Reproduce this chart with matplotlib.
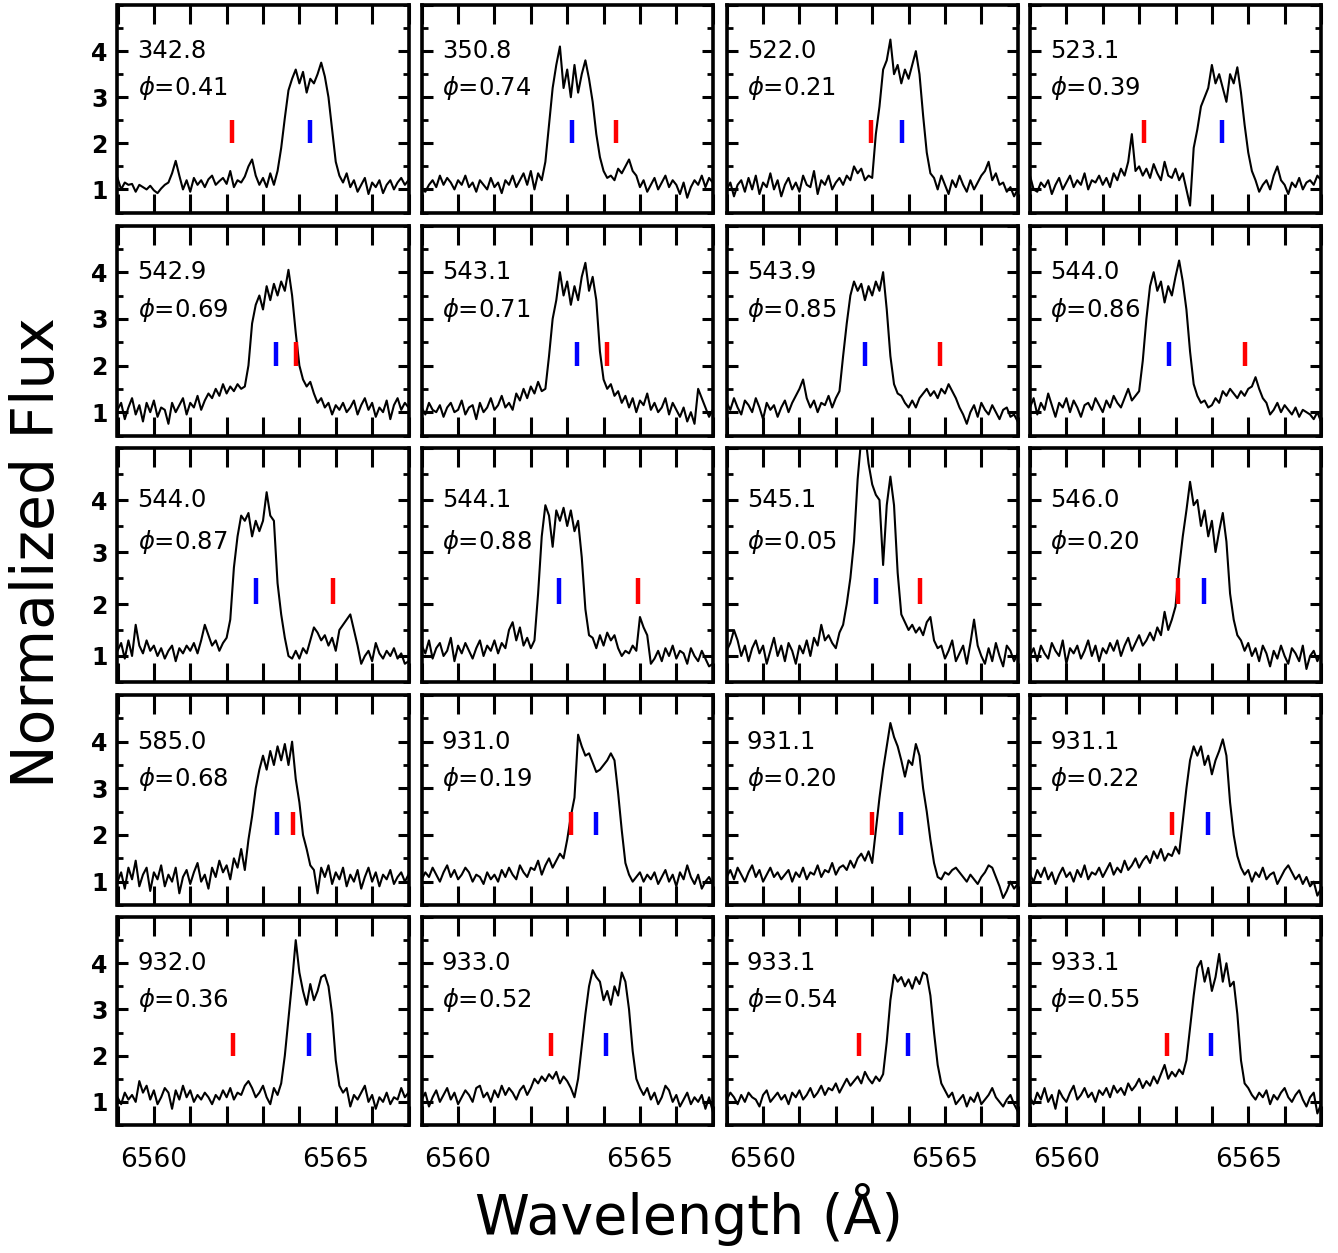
import matplotlib
matplotlib.use("Agg")
import matplotlib.pyplot as plt
import numpy as np
from matplotlib.ticker import MultipleLocator

# wavelength grid shared by all spectra (0.1 A sampling)
wave = np.linspace(6559.0, 6567.0, 81)

# panel labels (days) and orbital phases
days = ["342.8", "350.8", "522.0", "523.1",
        "542.9", "543.1", "543.9", "544.0",
        "544.0", "544.1", "545.1", "546.0",
        "585.0", "931.0", "931.1", "931.1",
        "932.0", "933.0", "933.1", "933.1"]
phases = ["0.41", "0.74", "0.21", "0.39",
          "0.69", "0.71", "0.85", "0.86",
          "0.87", "0.88", "0.05", "0.20",
          "0.68", "0.19", "0.20", "0.22",
          "0.36", "0.52", "0.54", "0.55"]

# predicted line positions (red and blue markers)
red_mark = [6562.15, 6564.34, 6562.96, 6562.13,
            6563.90, 6564.10, 6564.86, 6564.90,
            6564.93, 6564.94, 6564.31, 6563.07,
            6563.82, 6563.10, 6562.99, 6562.90,
            6562.17, 6562.55, 6562.63, 6562.76]
blue_mark = [6564.29, 6563.12, 6563.82, 6564.28,
             6563.35, 6563.27, 6562.80, 6562.82,
             6562.80, 6562.77, 6563.10, 6563.78,
             6563.38, 6563.79, 6563.79, 6563.89,
             6564.26, 6564.07, 6563.98, 6563.97]

# normalized flux, one array per panel
flux_01 = [1.25, 1.0, 1.15, 1.1, 1.12, 0.95, 1.1, 1.05, 1.0, 1.08, 0.98, 0.92, 1.02, 1.1, 1.15,
           1.35, 1.62, 1.3,
           1.0, 1.2, 0.95, 1.25, 1.1, 1.2, 1.05, 1.22, 1.3, 1.1, 1.18, 1.25, 1.12, 1.4, 1.05, 1.2, 1.15, 1.28,
           1.5, 1.65, 1.3,
           1.1, 1.25, 1.05, 1.35, 1.1, 1.4,
           1.9, 2.55, 3.15, 3.4, 3.6, 3.3, 3.55, 3.1, 3.4, 3.3, 3.5, 3.75, 3.45, 3.0, 2.3, 1.6, 1.3,
           1.15, 1.35, 1.05, 1.2, 0.95, 1.1, 1.25, 0.9, 1.15, 1.05, 1.2, 0.92, 1.1, 1.2, 1.0, 1.15, 1.25, 1.1, 1.2]
flux_02 = [1.0, 0.95, 1.1, 1.2, 1.05, 1.3, 1.1, 1.25, 1.15, 1.0, 1.2, 1.1, 1.3, 1.05,
           1.15, 0.95, 1.2, 1.1, 1.0, 1.25, 1.05, 1.15, 0.92, 1.2, 1.1, 1.3, 1.05, 1.2,
           1.35, 1.1, 1.4, 1.0, 1.35, 1.2,
           1.6, 2.4, 3.2, 3.7, 4.1, 3.2, 3.6, 3.0, 3.7, 3.1, 3.5, 3.8, 3.4, 2.9, 2.2, 1.7, 1.4, 1.25, 1.3,
           1.2, 1.45, 1.35, 1.5, 1.65, 1.4, 1.3, 1.05,
           1.2, 0.95, 1.1, 1.25, 1.0, 1.15, 1.3, 1.05, 1.2, 1.1, 0.9, 1.15, 0.82, 1.05, 1.2, 1.1, 1.3, 1.05, 1.25, 1.15]
flux_03 = [1.0, 1.15, 0.85, 1.1, 1.2, 0.95, 1.25, 1.0, 1.3, 0.9, 1.15, 1.05, 1.35, 1.0, 1.2, 0.85, 1.1, 1.25,
           1.0, 1.15, 0.95, 1.3, 1.1, 1.05, 1.4, 0.9, 1.2, 1.1, 1.3, 1.0, 1.15, 1.25, 1.1, 1.3, 1.2, 1.5,
           1.35, 1.45, 1.2, 1.3, 1.25, 2.2, 2.8, 3.6, 3.8, 4.25, 3.5, 3.7, 3.3, 3.6, 3.4, 3.7, 4.0, 3.5,
           2.6, 1.8, 1.35, 1.25,
           1.0, 1.3, 1.1, 0.9, 1.2, 1.05, 1.3, 1.1, 0.95, 1.2, 1.0, 1.15, 1.3, 1.4, 1.6, 1.2, 1.35, 1.1,
           1.15, 0.95, 1.05, 0.85, 1.0]
flux_04 = [1.3, 1.0, 0.95, 1.15, 1.05, 1.2, 0.9, 1.1, 1.25, 1.0, 1.15, 1.3, 1.05, 1.2, 1.1, 1.35, 1.0,
           1.2, 1.15, 1.3, 1.1, 1.25, 1.05, 1.35, 1.2,
           1.45, 1.3, 1.6, 2.2, 1.4, 1.5, 1.3, 1.45, 1.25, 1.55, 1.35, 1.2, 1.6, 1.3,
           1.25, 1.45, 1.2, 1.35, 1.0, 0.65, 1.9, 2.3, 2.8, 3.0, 3.2, 3.7, 3.3, 3.5, 3.2, 2.9, 3.5, 3.3,
           3.65, 3.1, 2.4, 1.8, 1.4, 1.2, 0.95,
           1.1, 1.2, 1.0, 1.3, 1.5, 1.2, 1.1, 0.9, 1.15, 1.05, 1.25, 1.0, 1.15, 1.2, 1.1, 1.3, 1.2]
flux_05 = [1.05, 1.2, 0.85, 1.1, 1.3, 0.95, 1.15, 0.8, 1.2, 1.0, 1.25, 0.9, 1.1, 1.05, 0.75, 1.2, 1.0,
           1.15, 1.3, 0.95, 1.2, 1.1, 1.35, 1.05, 1.25, 1.4,
           1.3, 1.5, 1.35, 1.6, 1.4, 1.55, 1.45, 1.6, 1.5, 1.55,
           2.0, 2.9, 3.3, 3.5, 3.2, 3.7, 3.4, 3.75, 3.5, 3.8, 3.6, 4.05, 3.5, 2.7, 2.0, 1.7, 1.55, 1.65,
           1.4, 1.2,
           1.3, 1.1, 1.2, 0.95, 1.15, 1.05, 1.2, 1.0, 1.1, 1.25, 0.95, 1.15, 1.3, 1.05, 1.2, 0.9, 1.1, 1.0,
           1.25, 0.85, 1.15, 1.3, 1.05, 1.2, 1.1]
flux_06 = [1.1, 0.95, 1.2, 1.05, 1.0, 1.15, 0.9, 1.1, 1.2, 1.0, 1.05, 1.25, 0.95, 1.1, 1.15, 0.85, 1.2,
           1.0, 1.1, 1.3, 1.05, 1.15, 1.35, 1.1, 1.2, 1.05,
           1.4, 1.25, 1.5, 1.3, 1.55, 1.4, 1.65, 1.45, 1.5,
           2.2, 3.0, 3.4, 4.0, 3.5, 3.8, 3.3, 3.7, 3.4, 3.9, 4.2, 3.6, 3.9, 3.4, 2.3, 1.7, 1.5, 1.6, 1.35,
           1.45,
           1.2, 1.35, 1.1, 1.3, 1.0, 1.25, 1.15, 1.4, 1.05, 1.2, 1.0, 1.1, 1.3, 0.95, 1.2, 1.05, 0.9, 1.1,
           0.8, 1.0, 0.75, 1.5, 1.3, 1.1, 0.9, 1.05]
flux_07 = [1.2, 1.05, 1.3, 1.1, 0.95, 1.25, 1.15, 1.0, 1.3, 1.1, 0.85, 1.2, 1.05, 1.15, 0.9, 1.1, 1.25,
           1.0, 1.2, 1.35, 1.5, 1.7, 1.3, 1.1, 1.25, 1.0, 1.2, 1.15, 1.35, 1.1, 1.3,
           1.45, 2.2, 2.9, 3.5, 3.8, 3.6, 3.75, 3.4, 3.7, 3.5, 3.8, 3.6, 4.0, 3.2, 2.2, 1.6, 1.4, 1.35,
           1.2, 1.1, 1.25, 1.1, 1.3, 1.4, 1.5, 1.35, 1.45, 1.3, 1.5, 1.4, 1.6, 1.45, 1.3, 1.1, 0.95, 0.75,
           1.0, 1.15, 0.9, 1.2, 1.05, 0.95, 1.15, 1.0, 0.85, 1.05, 1.1, 0.9, 0.95, 0.8]
flux_08 = [1.1, 1.3, 0.95, 1.2, 1.05, 1.4, 1.15, 0.9, 1.2, 1.1, 1.3, 1.0, 1.25, 1.1, 0.9, 1.15, 1.2,
           1.05, 1.3, 1.15, 1.0, 1.25, 1.1, 1.35, 1.2, 1.1, 1.3, 1.5, 1.25, 1.35, 1.45,
           2.1, 3.0, 3.7, 4.0, 3.6, 3.8, 3.35, 3.7, 3.5, 3.9, 4.25, 3.8, 3.2, 2.3, 1.6, 1.35, 1.2, 1.25,
           1.1, 1.15, 1.3, 1.2, 1.45, 1.35, 1.5, 1.4, 1.3, 1.45, 1.35, 1.5, 1.55, 1.75, 1.5, 1.3, 1.2,
           0.95, 1.05, 1.2, 1.0, 1.15, 1.05, 0.95, 1.1, 0.9, 1.05, 1.0, 0.95, 0.85, 1.0, 0.8]
flux_09 = [1.1, 1.25, 0.95, 1.3, 1.0, 1.6, 1.2, 1.05, 1.3, 1.1, 1.2, 1.0, 1.15, 0.95, 1.1, 1.2, 0.9,
           1.15, 1.05, 1.2, 1.1, 1.25, 1.05, 1.3, 1.6, 1.4, 1.2, 1.3, 1.1, 1.25,
           1.35, 1.7, 2.7, 3.3, 3.7, 3.6, 3.75, 3.3, 3.6, 3.4, 3.6, 4.15, 3.7, 3.6, 2.4, 1.8, 1.35, 1.0,
           0.95, 1.1, 0.95, 1.15, 1.05, 1.3, 1.55, 1.45, 1.3, 1.4, 1.2, 1.35, 1.1, 1.5, 1.6, 1.7, 1.8,
           1.5, 1.2, 0.85,
           1.0, 1.1, 0.9, 1.25, 1.05, 0.95, 1.1, 1.0, 1.15, 0.95, 1.05, 0.85, 0.9]
flux_10 = [1.2, 1.05, 1.3, 0.95, 1.15, 1.25, 1.0, 1.1, 1.35, 0.9, 1.2, 1.05, 1.25, 1.1, 0.95, 1.15, 1.3,
           1.0, 1.2, 1.1, 1.3, 1.05, 1.25, 1.15, 1.5, 1.65, 1.3, 1.55, 1.2, 1.35, 1.15,
           1.3, 2.2, 3.3, 3.9, 3.7, 3.1, 3.8, 3.6, 3.85, 3.5, 3.8, 3.4, 3.6, 2.9, 1.9, 1.4, 1.35, 1.15,
           1.4, 1.2, 1.45, 1.3, 1.4, 1.15, 1.0, 1.1, 1.05, 1.2, 1.1, 1.75, 1.55, 1.4, 0.85, 0.95,
           1.1, 0.9, 1.15, 1.0, 1.2, 0.95, 1.1, 1.05, 0.85, 1.15, 1.0, 0.9, 1.1, 0.95, 0.8, 0.85]
flux_11 = [1.1, 1.25, 1.5, 1.3, 1.0, 1.2, 0.9, 1.15, 1.3, 1.05, 1.2, 0.85, 1.1, 1.35, 1.0, 1.2, 0.9,
           1.25, 1.1, 0.85, 1.2, 1.05, 1.3, 1.0, 1.35, 1.2, 1.6, 1.3, 1.4, 1.25, 1.15, 1.45,
           1.6, 2.0, 2.5, 3.2, 4.4, 5.2, 5.3, 4.7, 4.3, 4.1, 4.0, 2.75, 3.9, 4.45, 3.9, 2.6, 1.8, 1.65,
           1.5, 1.6, 1.45, 1.55, 1.4, 1.65, 1.75, 1.3, 1.15,
           1.2, 0.95, 1.1, 1.3, 0.9, 1.05, 1.2, 0.85, 1.25, 1.7, 1.2, 1.0, 0.85, 1.15, 0.9, 1.25, 1.0,
           0.8, 1.2, 1.1, 0.9, 1.05]
flux_12 = [1.0, 1.15, 0.9, 1.2, 1.05, 0.95, 1.25, 1.1, 1.0, 1.3, 0.85, 1.15, 1.05, 1.2, 0.95, 1.1, 1.3,
           1.0, 1.2, 0.9, 1.15, 1.05, 1.25, 1.1, 1.3, 1.0, 1.2, 1.35, 1.1, 1.25, 1.4, 1.2, 1.3, 1.45,
           1.3, 1.55, 1.4, 1.85, 1.5, 1.7, 1.95, 2.7, 3.3, 3.8, 4.35, 3.9, 4.0, 3.5, 3.8, 3.3, 3.6, 3.0,
           3.4, 3.75, 3.2, 2.2, 1.7, 1.4, 1.3, 1.1,
           1.25, 1.0, 1.15, 0.9, 1.2, 1.05, 0.8, 1.1, 0.95, 1.2, 1.0, 0.85, 1.15, 1.05, 0.9, 1.2, 0.75,
           1.0, 1.1, 0.9, 1.05]
flux_13 = [1.0, 1.2, 0.85, 1.3, 1.05, 1.45, 0.9, 1.15, 1.3, 0.8, 1.2, 1.05, 1.35, 0.9, 1.15, 1.0, 1.3,
           0.75, 1.1, 1.25, 0.95, 1.2, 1.4, 1.0, 1.15, 0.85, 1.3, 1.1, 1.45, 1.2, 1.35, 1.05, 1.5, 1.3,
           1.7, 1.25, 1.9, 2.4, 3.0, 3.4, 3.7, 3.4, 3.8, 3.5, 3.9, 3.6, 3.95, 3.5, 4.0, 3.2, 2.7, 2.0,
           1.7, 1.35, 1.25, 0.75, 1.3,
           1.1, 1.35, 0.95, 1.2, 1.05, 1.3, 0.9, 1.15, 1.0, 1.25, 0.85, 1.1, 1.3, 1.0, 1.2, 0.9, 1.15,
           1.05, 1.25, 0.95, 1.1, 1.2, 1.0, 1.15]
flux_14 = [1.05, 1.2, 1.1, 1.3, 1.15, 1.0, 1.2, 1.35, 1.1, 1.25, 1.05, 1.15, 1.3, 1.2, 1.0, 1.15, 1.1,
           0.95, 1.2, 1.05, 1.15, 1.0, 1.25, 1.1, 1.3, 1.15, 1.05, 1.35, 1.2, 1.1, 1.3, 1.25, 1.45, 1.15,
           1.35, 1.5,
           1.3, 1.45, 1.6, 1.5, 1.9, 2.4, 2.8, 4.15, 3.9, 3.7, 3.75, 3.55, 3.35, 3.4, 3.5, 3.6, 3.75, 3.6,
           2.9, 2.1, 1.4, 1.15, 1.0,
           1.1, 1.2, 1.0, 1.15, 1.05, 1.2, 0.95, 1.1, 1.25, 1.0, 1.15, 0.9, 1.2, 1.05, 1.35, 1.1, 0.95,
           1.15, 0.85, 1.0, 1.1, 0.95]
flux_15 = [1.1, 1.25, 1.05, 1.3, 1.15, 1.0, 1.2, 1.35, 1.1, 1.25, 1.0, 1.15, 1.3, 1.1, 1.2, 1.05, 1.15,
           1.25, 1.0, 1.2, 1.1, 1.3, 1.05, 1.2, 1.15, 1.35, 1.1, 1.25, 1.2, 1.4, 1.15, 1.3, 1.35, 1.25,
           1.45, 1.3, 1.5,
           1.6, 1.45, 1.65, 1.4, 2.1, 2.8, 3.4, 3.9, 4.4, 4.1, 3.9, 3.6, 3.25, 3.6, 3.5, 3.95, 3.7, 3.0,
           2.5, 1.9, 1.4, 1.1,
           1.05, 1.2, 1.15, 1.25, 1.3, 1.2, 1.1, 1.0, 1.15, 1.05, 0.95, 1.1, 1.2, 1.35, 1.3, 1.1, 0.9,
           0.65, 0.8, 1.0, 0.85, 0.95]
flux_16 = [1.15, 1.0, 1.25, 1.1, 1.3, 1.05, 1.2, 0.95, 1.15, 1.3, 1.1, 1.2, 1.0, 1.25, 1.1, 1.35, 1.05,
           1.2, 1.15, 1.3, 1.1, 1.25, 1.4, 1.15, 1.3, 1.2, 1.45, 1.25, 1.35, 1.5, 1.3, 1.45, 1.55,
           1.4, 1.65, 1.5, 1.7, 1.45, 1.6, 1.55, 1.75, 1.6, 2.3, 3.0, 3.6, 3.9, 3.7, 3.9, 3.5, 3.7, 3.3,
           3.6, 3.8, 4.05, 3.7, 2.7, 2.0, 1.55, 1.3,
           1.15, 1.25, 1.0, 1.2, 1.1, 1.3, 1.05, 1.15, 1.2, 0.95, 1.1, 1.25, 1.35, 1.2, 1.05, 1.15, 0.95,
           1.1, 0.9, 1.0, 0.7, 0.85]
flux_17 = [1.1, 0.95, 1.2, 1.05, 1.15, 1.0, 1.45, 1.2, 1.35, 1.05, 1.25, 0.95, 1.1, 1.3, 1.2, 0.85,
           1.25, 1.05, 1.35, 1.1, 1.25, 1.0, 1.15, 1.05, 1.2, 1.1, 0.95, 1.15, 1.05, 1.25, 1.1, 1.3,
           1.05, 1.2, 1.15, 1.35, 1.45, 1.3, 1.1, 1.2, 1.35, 1.1, 0.95, 1.3, 1.15, 1.4,
           2.0, 2.8, 3.6, 4.5, 3.8, 3.4, 3.1, 3.55, 3.2, 3.4, 3.7, 3.75, 3.5, 2.9, 1.9, 1.35, 1.2,
           1.3, 0.9, 1.15, 1.05, 1.2, 1.35, 1.0, 1.15, 0.85, 1.1, 1.0, 1.2, 0.95, 1.1, 1.05, 1.3, 1.1, 1.2]
flux_18 = [1.05, 1.2, 0.9, 1.1, 1.25, 1.0, 1.15, 1.3, 1.05, 1.2, 0.95, 1.1, 1.25, 1.15, 1.0, 1.3, 1.35,
           1.1, 1.2, 1.0, 1.25, 1.1, 1.35, 1.15, 1.3, 1.2, 1.05, 1.25, 1.35, 1.15, 1.3,
           1.5, 1.4, 1.55, 1.45, 1.6, 1.5, 1.65, 1.4, 1.55, 1.45, 1.3, 1.1, 1.5, 2.2, 2.9, 3.5, 3.85, 3.7,
           3.6, 3.2, 3.4, 3.1, 3.5, 3.3, 3.8, 3.6, 3.0, 2.1, 1.5, 1.3,
           1.15, 1.3, 1.05, 1.2, 0.95, 1.1, 1.35, 1.25, 1.0, 1.15, 0.9, 1.05, 1.2, 0.95, 1.1, 1.0, 1.15,
           0.85, 1.1, 0.8]
flux_19 = [1.05, 1.2, 1.1, 0.95, 1.15, 1.0, 1.2, 1.1, 1.05, 0.9, 1.15, 1.25, 1.0, 1.1, 1.2, 1.05, 1.15,
           0.95, 1.2, 1.1, 1.25, 1.05, 1.15, 1.3, 1.1, 1.2, 1.35, 1.15, 1.3, 1.25, 1.4, 1.2, 1.35, 1.5,
           1.35, 1.45, 1.55, 1.4, 1.65, 1.5, 1.4, 1.55, 1.45, 1.6, 2.3, 3.2, 3.75, 3.6, 3.7, 3.5, 3.65,
           3.45, 3.7, 3.55, 3.8, 3.75, 3.3, 2.5, 1.8, 1.4, 1.25,
           1.1, 1.2, 0.95, 1.05, 1.15, 0.9, 1.1, 1.0, 1.2, 0.95, 1.05, 1.15, 1.3, 1.1, 1.0, 0.9, 1.05,
           1.15, 0.95, 0.8]
flux_20 = [1.1, 0.95, 1.2, 1.05, 1.3, 1.0, 1.15, 0.85, 1.25, 1.1, 1.0, 1.2, 1.35, 1.05, 1.15, 1.3, 1.1,
           1.2, 1.0, 1.25, 1.15, 1.3, 1.1, 1.35, 1.2, 1.3, 1.15, 1.4, 1.25, 1.35, 1.5, 1.3, 1.45, 1.35,
           1.55, 1.4, 1.6, 1.8, 1.5, 1.65, 1.55, 1.7, 1.6, 1.9, 2.6, 3.3, 3.9, 4.05, 3.6, 3.9, 3.4, 3.7,
           4.2, 3.6, 4.0, 3.5, 3.6, 2.9, 1.9, 1.4, 1.3,
           1.15, 1.05, 1.2, 1.1, 1.25, 0.95, 1.15, 1.05, 1.2, 1.3, 1.1, 1.0, 1.15, 1.25, 1.05, 0.9, 1.1,
           1.2, 0.75, 0.95]

fluxes = [flux_01, flux_02, flux_03, flux_04, flux_05, flux_06, flux_07, flux_08, flux_09, flux_10,
          flux_11, flux_12, flux_13, flux_14, flux_15, flux_16, flux_17, flux_18, flux_19, flux_20]

W, H = 1338, 1253
fig = plt.figure(figsize=(W / 100, H / 100), dpi=100)

# panel edges in pixels
col_left = [117.5, 421.7, 726.7, 1030.0]
col_width = 291.0
row_edges = [(5, 212.5), (225.5, 435.5), (448, 682), (695, 905), (917, 1125)]

for k in range(20):
    r, c = divmod(k, 4)
    top, bot = row_edges[r]
    ax = fig.add_axes([col_left[c] / W, 1 - bot / H, col_width / W, (bot - top) / H])
    ax.plot(wave, fluxes[k], color="black", lw=1.5)
    ax.plot([red_mark[k], red_mark[k]], [2.0, 2.5], color="#ff0000", lw=3.2, solid_capstyle="butt")
    ax.plot([blue_mark[k], blue_mark[k]], [2.0, 2.5], color="#0000ff", lw=3.2, solid_capstyle="butt")
    ax.text(6559.55, 4.0, days[k], fontsize=17.5, va="center", ha="left")
    ax.text(6559.55, 3.2, r"$\phi$=" + phases[k], fontsize=17.5, va="center", ha="left")

    ax.set_xlim(6559.0, 6567.0)
    ax.set_ylim(0.5, 5.0)
    ax.xaxis.set_major_locator(MultipleLocator(1))
    ax.yaxis.set_major_locator(MultipleLocator(1))
    ax.yaxis.set_minor_locator(MultipleLocator(0.5))
    ax.tick_params(axis="x", which="major", direction="in", top=True, bottom=True,
                   length=14, width=2.2, pad=16, labelsize=19)
    ax.tick_params(axis="y", which="major", direction="in", left=True, right=True,
                   length=8, width=2.2, pad=7, labelsize=17)
    ax.tick_params(axis="y", which="minor", direction="in", left=True, right=True,
                   length=4, width=2.0)
    for sp in ax.spines.values():
        sp.set_linewidth(2.6)

    if r == 4:
        ax.set_xticks(np.arange(6559, 6568))
        ax.set_xticklabels(["6560" if t == 6560 else "6565" if t == 6565 else ""
                            for t in range(6559, 6568)])
    else:
        ax.tick_params(axis="x", labelbottom=False)
    if c == 0:
        ax.set_yticks([1, 2, 3, 4])
        for lab in ax.get_yticklabels():
            lab.set_fontweight("bold")
    else:
        ax.tick_params(axis="y", labelleft=False)

fig.text(38 / W, 1 - 553 / H, "Normalized Flux", rotation=90, fontsize=42,
         ha="center", va="center")
fig.text(689 / W, 1 - 1215 / H, "Wavelength (Å)", fontsize=40, ha="center", va="center")

fig.savefig("out.png", dpi=100)
